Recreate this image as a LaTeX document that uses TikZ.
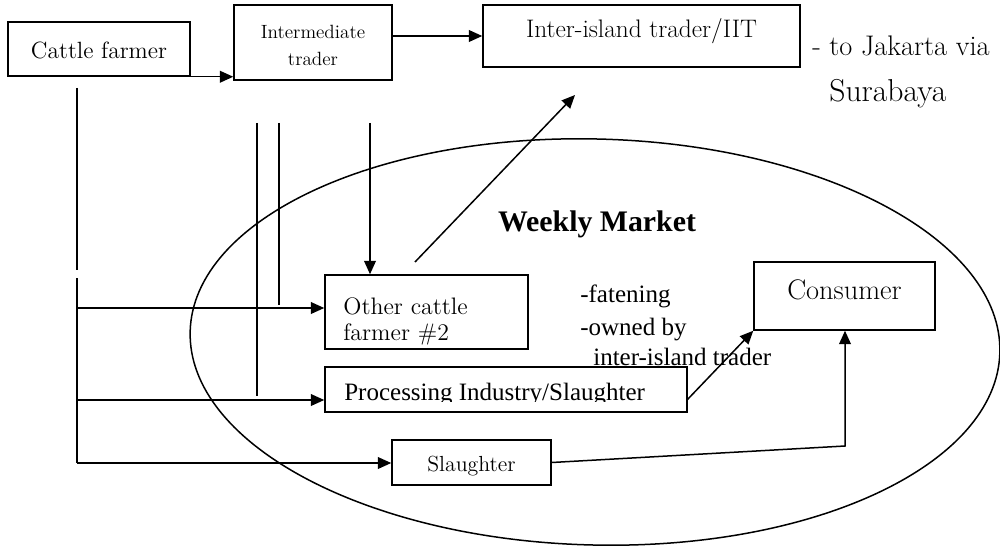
\documentclass[tikz,border=0pt]{standalone}
\usepackage{fontspec}
\newfontfamily\timesfont{Liberation Serif}
\usetikzlibrary{arrows.meta,fit}
\begin{document}
\begin{tikzpicture}[x=0.6pt,y=-0.6pt,
  box/.style={draw, line width=0.9pt, inner sep=0pt, rectangle},
  flow/.style={line width=0.9pt},
  arr/.style={flow, -{Triangle[length=8pt,width=7pt]}},
  lbl/.style={inner sep=0pt},
  tnr/.style={lbl, font=\timesfont\fontsize{15}{18}\selectfont}
]
\useasboundingbox (0,0) rectangle (1000,545);

% market area
\draw[flow, rotate around={-1.5:(595,342)}] (595,342) ellipse [x radius=243pt, y radius=121.8pt];

% boxes
\node[box, fit={(8,22) (190,76)}] (cf) {};
\node[box, fit={(234,5) (392,80)}] (it) {};
\node[box, fit={(483,5) (800,67)}] (iit) {};
\node[box, fit={(325,275) (528,349)}] (oc) {};
\node[box, fit={(325,367) (687,412)}] (pi) {};
\node[box, fit={(392,440) (551,485)}] (sl) {};
\node[box, fit={(754,262) (935,330)}] (cons) {};

% box texts
\node[lbl, font=\fontsize{14.1}{16}\selectfont] (cftxt) at ([yshift=-1]cf.center) {Cattle farmer};
\node[lbl, align=center, font=\fontsize{11.5}{16.2}\selectfont] (ittxt) at ([yshift=-2]it.center) {Intermediate\\trader};
\node[lbl, font=\fontsize{15.2}{17}\selectfont] (iittxt) at ([yshift=3]iit.center) {Inter-island trader/IIT};
\node[lbl, font=\fontsize{13.1}{16}\selectfont] (sltxt) at ([yshift=-2]sl.center) {Slaughter};
\node[lbl, font=\fontsize{17}{19}\selectfont] (constxt) at ([yshift=4]cons.center) {Consumer};
\node[lbl, anchor=west, align=left, font=\fontsize{14.3}{15.6}\selectfont] (octxt) at (343,321) {Other cattle\\farmer \#2};
\begin{scope}
  \clip (325,367) rectangle (687,401);
  \node[tnr, anchor=base west] (pitxt) at (344,400) {Processing Industry/Slaughter};
\end{scope}

% free texts
\node[lbl, anchor=base west, font=\fontsize{17}{19}\selectfont] (jak) at (812,56) {- to Jakarta via};
\node[lbl, anchor=base west, font=\fontsize{19}{21}\selectfont] (sby) at (829,102) {Surabaya};
\node[tnr, anchor=base, font=\timesfont\bfseries\fontsize{17.9}{20}\selectfont] (wm) at (597,231) {Weekly Market};
\node[tnr, anchor=base west] (fat) at (580,302) {-fatening};
\node[tnr, anchor=base west] (own) at (580,335) {-owned by};
\node[tnr, anchor=base west] (iitr) at (593,365) {inter-island trader};

% top row
\draw[arr] (cf.south east) -- (cf.south east -| it.west);
\draw[arr] (iit.west -| it.east) -- (iit.west);

% left trunk
\coordinate (l0) at (77,88);
\coordinate (l1) at (77,270);
\coordinate (l2) at (77,278);
\coordinate (l3) at (77,463);
\coordinate (h1) at (77,308);
\coordinate (h2) at (77,400);
\draw[flow] (l0) -- (l1);
\draw[flow] (l2) -- (l3);
\draw[arr] (h1) -- (h1 -| oc.west);
\draw[arr] (h2) -- (h2 -| pi.west);
\draw[arr] (l3) -- (l3 -| sl.west);

% vertical lines
\coordinate (v1) at (257,123);
\coordinate (v1e) at (257,396);
\coordinate (v2) at (279,123);
\coordinate (v2e) at (279,305);
\coordinate (v3) at (370,123);
\draw[flow] (v1) -- (v1e);
\draw[flow] (v2) -- (v2e);
\draw[arr] (v3) -- (v3 |- oc.north);

% towards inter-island trader
\coordinate (d0) at (415,262);
\coordinate (d1) at (575,95);
\draw[arr] (d0) -- (d1);

% towards consumer
\coordinate (pc) at (687,400);
\draw[arr] (pc) -- (cons.south west);
\coordinate (sc) at (845,446);
\draw[arr] (sl.east) -- (sc) -- (sc |- cons.south);
\end{tikzpicture}
\end{document}
